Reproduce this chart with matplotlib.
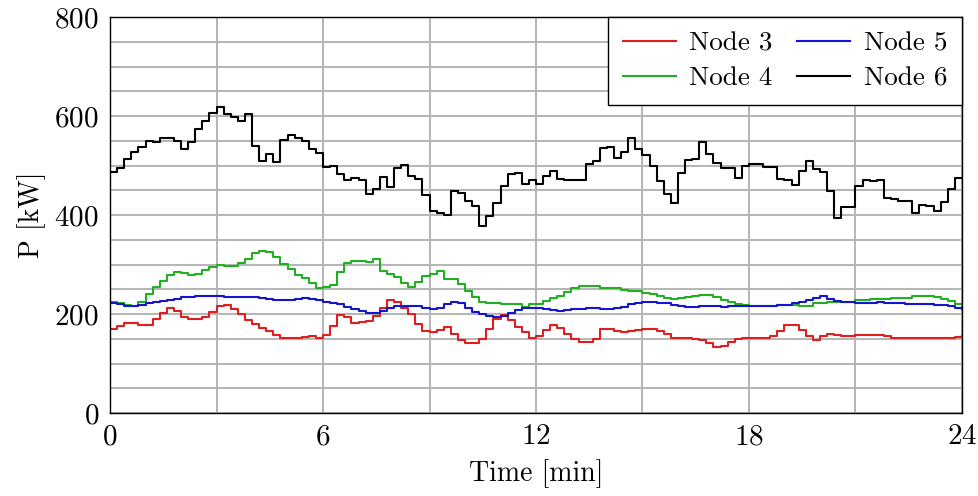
import numpy as np
import matplotlib
matplotlib.use("Agg")
from matplotlib import pyplot as plt

plt.rcParams["font.family"] = ["cmr10", "DejaVu Serif"]
plt.rcParams["mathtext.fontset"] = "cm"
plt.rcParams["axes.formatter.use_mathtext"] = True

# sample times [min], one value per 0.2 min step
t = np.round(np.arange(0, 24.01, 0.2), 1)

node3 = [170, 175, 182, 182, 177, 178, 190, 203, 212, 206,
         193, 189, 189, 193, 205, 217, 218, 210, 200, 188,
         180, 172, 165, 157, 152, 151, 151, 153, 155, 151,
         158, 176, 198, 193, 182, 184, 186, 197, 212, 229,
         225, 212, 200, 180, 165, 163, 168, 173, 160, 148,
         142, 141, 150, 170, 190, 198, 187, 173, 163, 151,
         155, 168, 178, 172, 160, 150, 143, 143, 150, 170,
         170, 165, 164, 166, 168, 170, 170, 165, 160, 151,
         151, 151, 150, 148, 142, 133, 135, 143, 150, 152,
         151, 151, 151, 156, 166, 178, 178, 168, 156, 148,
         155, 160, 158, 156, 156, 158, 158, 158, 158, 155,
         152, 151, 151, 151, 151, 151, 151, 151, 151, 153,
         156]

node4 = [224, 222, 218, 217, 225, 240, 254, 267, 278, 284,
         282, 279, 280, 288, 294, 300, 298, 296, 304, 312,
         323, 328, 326, 315, 302, 290, 279, 272, 262, 252,
         254, 259, 285, 304, 307, 307, 305, 311, 286, 280,
         274, 262, 254, 265, 277, 280, 286, 271, 271, 261,
         247, 234, 225, 222, 222, 220, 220, 220, 215, 220,
         220, 227, 232, 237, 245, 252, 256, 256, 256, 252,
         252, 252, 249, 247, 247, 242, 240, 237, 232, 230,
         232, 235, 237, 238, 238, 234, 229, 225, 220, 218,
         217, 217, 217, 217, 218, 218, 218, 217, 217, 222,
         222, 225, 225, 225, 225, 229, 229, 230, 230, 230,
         232, 232, 232, 236, 237, 237, 234, 230, 226, 220,
         214]

node5 = [222, 220, 217, 217, 219, 222, 225, 227, 229, 231,
         234, 235, 237, 237, 236, 236, 235, 234, 235, 235,
         234, 232, 230, 229, 229, 229, 231, 233, 231, 228,
         224, 222, 220, 215, 210, 206, 203, 202, 206, 212,
         216, 217, 217, 216, 213, 210, 213, 220, 225, 222,
         213, 205, 200, 195, 193, 197, 203, 208, 212, 213,
         212, 210, 208, 207, 208, 210, 211, 212, 212, 211,
         210, 212, 215, 220, 222, 224, 224, 223, 222, 219,
         216, 214, 214, 216, 217, 216, 215, 216, 217, 217,
         217, 217, 217, 217, 218, 219, 222, 225, 229, 232,
         236, 230, 227, 225, 224, 222, 222, 223, 224, 223,
         222, 222, 221, 220, 220, 220, 219, 218, 216, 213,
         211]

node6 = [486, 494, 514, 528, 538, 550, 548, 556, 556, 550,
         533, 548, 573, 590, 607, 618, 605, 598, 589, 605,
         539, 510, 524, 508, 551, 562, 555, 550, 533, 526,
         497, 500, 483, 470, 474, 470, 443, 452, 477, 456,
         494, 502, 478, 473, 441, 409, 405, 400, 449, 444,
         428, 418, 378, 398, 425, 459, 483, 484, 463, 470,
         462, 479, 488, 472, 470, 470, 470, 504, 510, 536,
         538, 515, 528, 556, 534, 522, 500, 469, 442, 425,
         484, 511, 514, 548, 523, 506, 494, 494, 475, 500,
         504, 504, 496, 496, 472, 470, 461, 489, 510, 492,
         487, 448, 393, 416, 417, 459, 470, 468, 470, 434,
         432, 428, 428, 404, 421, 419, 409, 427, 452, 474,
         474]

labels = ["Node 3", "Node 4", "Node 5", "Node 6"]
colors = ["#e01e1e", "#22b022", "#1414d2", "black"]

fig = plt.figure(figsize=(9.79, 4.96), dpi=100)
ax = fig.add_axes([0.1124, 0.1673, 0.8702, 0.7984])

for vals, lab, col in zip([node3, node4, node5, node6], labels, colors):
    ax.plot(t, vals, drawstyle="steps-post", color=col, lw=1.5, label=lab)

ax.set_xlim(0, 24)
ax.set_ylim(0, 800)
ax.set_xticks(np.arange(0, 25, 6))
ax.set_xticks(np.arange(0, 25, 3), minor=True)
ax.set_yticks(np.arange(0, 801, 200))
ax.set_yticks(np.arange(0, 801, 50), minor=True)
ax.grid(which="both", color="#b4b4b4", lw=1.4)
ax.set_axisbelow(True)
ax.tick_params(which="both", direction="in", length=0, labelsize=21, pad=8)

for sp in ax.spines.values():
    sp.set_linewidth(1.0)

ax.set_xlabel("Time [min]", fontsize=20, labelpad=6)
ax.set_ylabel("P [kW]", fontsize=20, labelpad=6)

leg = ax.legend(ncol=2, loc="upper right", fontsize=19.5, frameon=True,
                fancybox=False, edgecolor="black", framealpha=1,
                borderaxespad=0, handlelength=1.95, handletextpad=0.5,
                columnspacing=0.9, labelspacing=0.38, borderpad=0.55)
leg.get_frame().set_linewidth(1.0)

fig.savefig("out.png", dpi=100)
